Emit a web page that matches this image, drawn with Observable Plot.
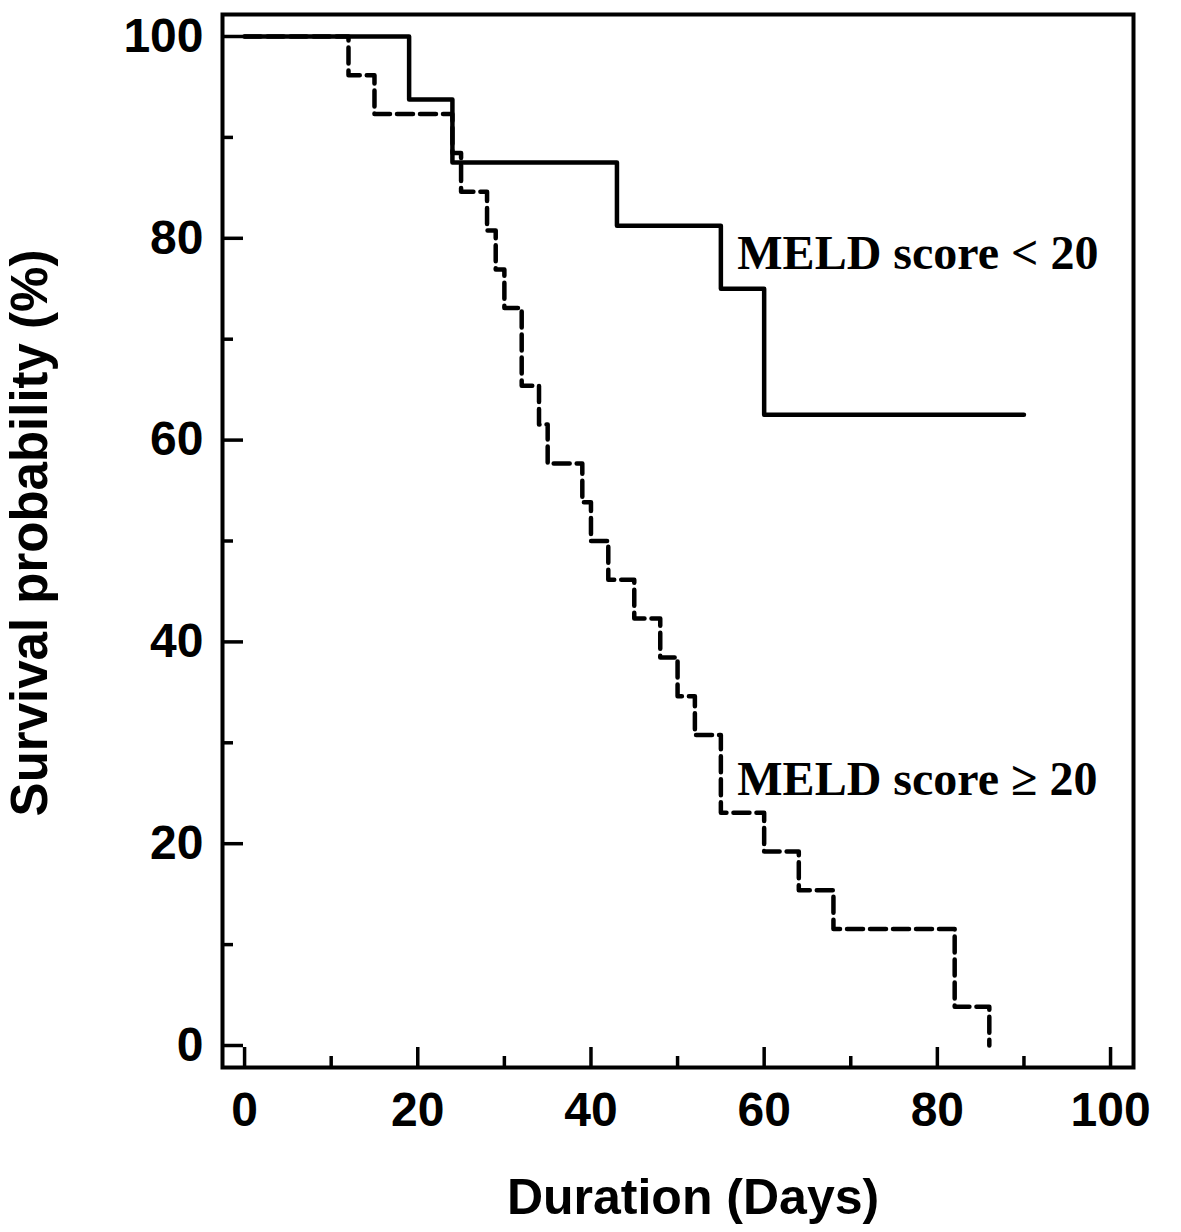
<!DOCTYPE html>
<html>
<head>
<meta charset="utf-8">
<script src="https://cdn.jsdelivr.net/npm/d3@7"></script>
<script src="https://cdn.jsdelivr.net/npm/@observablehq/plot@0.6"></script>
<style>
  html, body { margin: 0; padding: 0; background: #fff; }
  #chart svg { display: block; }
</style>
</head>
<body>
<div id="chart"></div>
<script>
// MELD score < 20 (solid)
const lowDays = [0, 19, 24, 43, 55, 60, 90];
const lowSurv = [100, 93.75, 87.5, 81.25, 75, 62.5, 62.5];
// MELD score >= 20 (dashed)
const highDays = [0, 12, 15, 24, 25, 28, 29, 30, 32, 34, 35, 39, 40, 42, 45, 48, 50, 52, 55, 60, 64, 68, 82, 86];
const highSurv = [100, 96.15, 92.31, 88.46, 84.62, 80.77, 76.92, 73.08, 65.38, 61.54, 57.69, 53.85, 50, 46.15, 42.31, 38.46, 34.62, 30.77, 23.08, 19.23, 15.38, 11.54, 3.85, 0];

const xMajor = [0, 20, 40, 60, 80, 100];
const xMinor = [10, 30, 50, 70, 90];
const yMajor = [0, 20, 40, 60, 80, 100];
const yMinor = [10, 30, 50, 70, 90];

const labelText = ["MELD score < 20", "MELD score \u2265 20"];
const labelX = [56.9, 56.9];
const labelY = [77, 24.8];

const xTitle = "Duration (Days)";
const yTitle = "Survival probability (%)";

const low = lowDays.map((d, i) => ({day: d, surv: lowSurv[i]}));
const high = highDays.map((d, i) => ({day: d, surv: highSurv[i]}));
const labels = labelText.map((t, i) => ({text: t, x: labelX[i], y: labelY[i]}));

const sans = "'Liberation Sans', Arial, sans-serif";
const serif = "'Liberation Serif', 'Times New Roman', serif";

const chart = Plot.plot({
  width: 1181,
  height: 1232,
  marginLeft: 222,
  marginRight: 48,
  marginTop: 14,
  marginBottom: 165,
  style: {fontFamily: sans, color: "#000", background: "#fff"},
  x: {domain: [-2.55, 102.65]},
  y: {domain: [-2.18, 102.18]},
  marks: [
    Plot.axisX(xMajor, {tickSize: -20, tickPadding: 0, text: null, strokeWidth: 3.5}),
    Plot.axisX(xMinor, {tickSize: -11, text: null, strokeWidth: 3.5}),
    Plot.axisX(xMajor, {tickSize: 0, tickPadding: 24, fontSize: 48, fontWeight: "bold", label: null}),
    Plot.axisY(yMajor, {tickSize: -21, text: null, strokeWidth: 3.5}),
    Plot.axisY(yMinor, {tickSize: -11, text: null, strokeWidth: 3.5}),
    Plot.axisY(yMajor, {tickSize: 0, tickPadding: 19, fontSize: 48, fontWeight: "bold", label: null}),
    Plot.frame({stroke: "#000", strokeWidth: 4}),
    Plot.line(low, {x: "day", y: "surv", curve: "step-after", stroke: "#000", strokeWidth: 4.5}),
    Plot.line(high, {x: "day", y: "surv", curve: "step-after", stroke: "#000", strokeWidth: 4.5, strokeDasharray: "16,7"}),
    Plot.text(labels, {x: "x", y: "y", text: "text", textAnchor: "start", lineAnchor: "bottom", fontSize: 48, fontWeight: "bold", fontFamily: serif, fill: "#000"}),
    Plot.text([xTitle], {frameAnchor: "bottom", dx: 15, dy: 146, text: d => d, fontSize: 50, fontWeight: "bold", lineAnchor: "bottom", textAnchor: "middle"}),
    Plot.text([yTitle], {frameAnchor: "left", dx: -192, dy: -8, rotate: -90, text: d => d, fontSize: 51, fontWeight: "bold", textAnchor: "middle"})
  ]
});
document.getElementById("chart").appendChild(chart);
</script>
</body>
</html>
